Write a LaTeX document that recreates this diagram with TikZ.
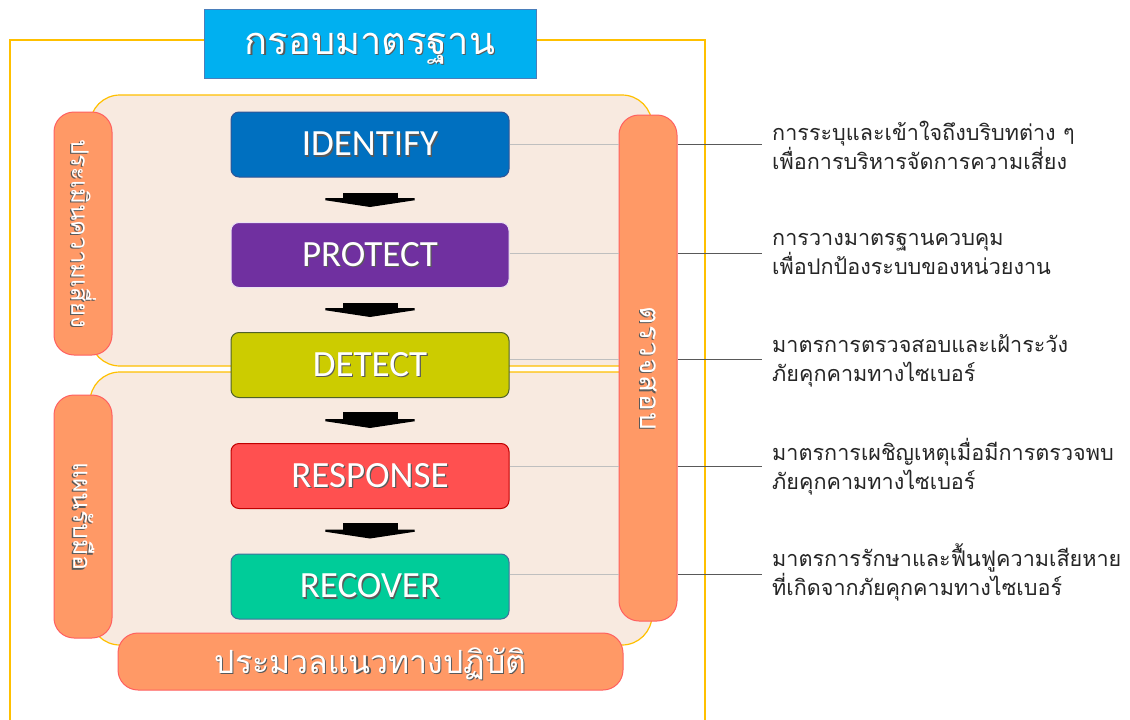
\documentclass[tikz,border=0pt]{standalone}
\usepackage{fontspec}
\setmainfont{Carlito}
\newfontfamily\thaifont[Script=Thai]{Loma}
\newfontfamily\thaiwide[Script=Thai, LetterSpace=4]{Loma}
\usetikzlibrary{arrows.meta}
\definecolor{cream}{HTML}{F8EAE0}
\definecolor{goldline}{HTML}{FFC000}
\definecolor{pillfill}{HTML}{FF9966}
\definecolor{pilledge}{HTML}{FF6060}
\definecolor{titlefill}{HTML}{00B0F0}
\definecolor{titleedge}{HTML}{4A7EBB}
\definecolor{idfill}{HTML}{0070C0}
\definecolor{idedge}{HTML}{2F5597}
\definecolor{prfill}{HTML}{7030A0}
\definecolor{predge}{HTML}{EDE3F3}
\definecolor{defill}{HTML}{CCCC00}
\definecolor{deedge}{HTML}{4F6228}
\definecolor{rsfill}{HTML}{FF5050}
\definecolor{rsedge}{HTML}{C00000}
\definecolor{rcfill}{HTML}{00CC99}
\definecolor{rcedge}{HTML}{41719C}
\definecolor{linein}{HTML}{BFBFBF}
\definecolor{lineout}{HTML}{595959}
\definecolor{desctext}{HTML}{262626}
\definecolor{shadowc}{HTML}{5A5A5A}
\newcommand\shd[1]{\makebox[0pt][l]{\hspace{1.2pt}\raisebox{-1.4pt}{\textcolor{shadowc}{#1}}}#1}
\begin{document}
\begin{tikzpicture}[x=1pt,y=-1pt,
  frame/.style={draw=goldline, line width=1.2pt},
  titlebox/.style={draw=titleedge, fill=titlefill, line width=1pt, minimum width=332pt, minimum height=69pt, inner sep=0pt},
  titletext/.style={text=white, inner sep=0pt, font=\thaifont\fontsize{38}{44}\selectfont},
  creambox/.style={draw=goldline, fill=cream, line width=1.2pt, rounded corners=30pt, inner sep=0pt},
  pillbox/.style={draw=pilledge, fill=pillfill, line width=1pt, rounded corners=20pt, inner sep=0pt},
  vtext/.style={rotate=-90, text=white, inner sep=0pt, font=\thaifont\fontsize{24}{28}\selectfont},
  htext/.style={text=white, inner sep=0pt, font=\thaifont\fontsize{32}{38}\selectfont},
  stepbox/.style={rounded corners=8pt, minimum width=278pt, minimum height=65pt, line width=1pt, text=white, inner sep=0pt, font=\fontsize{37}{40}\selectfont},
  blockarrow/.style={line width=55pt, black, -{Triangle[width=119pt, length=9pt]}},
  inline/.style={draw=linein, line width=0.8pt},
  outline/.style={draw=lineout, line width=0.8pt},
  desc/.style={anchor=west, align=left, text=desctext, inner xsep=10pt, inner ysep=2pt, font=\thaifont\fontsize{21.6}{29}\selectfont}
]
\useasboundingbox (0,0) rectangle (1130,720);
\fill[white] (0,0) rectangle (1130,720);
% outer frame
\draw[frame] (10,720) -- (10,40) -- (705,40) -- (705,720);
\node[titlebox] (title) at (370,43.5) {};
\node[titletext] (titlelabel) at ([yshift=-6pt]title.center) {\shd{กรอบมาตรฐาน}};
% cream areas
\node[creambox, minimum width=562pt, minimum height=271pt] (upper) at (371,230.5) {};
\node[creambox, minimum width=562pt, minimum height=273pt] (lower) at (371,508.5) {};
% step boxes
\node[stepbox, fill=idfill, draw=idedge] (identify) at (370,144.5) {\shd{IDENTIFY}};
\node[stepbox, fill=prfill, draw=predge] (protect) at (370,255) {\shd{PROTECT}};
\node[stepbox, fill=defill, draw=deedge] (detect) at (370,365) {\shd{DETECT}};
\node[stepbox, fill=rsfill, draw=rsedge] (response) at (370,476) {\shd{RESPONSE}};
\node[stepbox, fill=rcfill, draw=rcedge] (recover) at (370,586.5) {\shd{RECOVER}};
% block arrows
\draw[blockarrow] ([yshift=-15pt]identify.south) -- ([yshift=15pt]protect.north);
\draw[blockarrow] ([yshift=-15pt]protect.south) -- ([yshift=15pt]detect.north);
\draw[blockarrow] ([yshift=-14pt]detect.south) -- ([yshift=15pt]response.north);
\draw[blockarrow] ([yshift=-14pt]response.south) -- ([yshift=15pt]recover.north);
% side pills
\node[pillbox, minimum width=58pt, minimum height=243pt] (risk) at (83,233.5) {};
\node[vtext] (risktext) at (risk) {\shd{ประเมินความเสี่ยง}};
\node[pillbox, minimum width=58pt, minimum height=243pt] (plan) at (83,516.5) {};
\node[vtext, font=\thaifont\fontsize{25}{28}\selectfont] (plantext) at (plan) {\shd{แผนรับมือ}};
\node[pillbox, minimum width=58pt, minimum height=506pt] (check) at (648,368) {};
\node[vtext, font=\thaiwide\fontsize{28}{32}\selectfont] (checktext) at (check) {\shd{ตรวจสอบ}};
\node[pillbox, minimum width=505pt, minimum height=57pt] (guide) at (370.5,661.5) {};
\node[htext] (guidetext) at ([yshift=-3pt]guide.center) {\shd{ประมวลแนวทางปฏิบัติ}};
% descriptions
\node[desc] (d1) at (762,145.5) {การระบุและเข้าใจถึงบริบทต่าง ๆ\\เพื่อการบริหารจัดการความเสี่ยง};
\node[desc] (d2) at (762,254) {การวางมาตรฐานควบคุม\\เพื่อปกป้องระบบของหน่วยงาน};
\node[desc] (d3) at (762,360.5) {มาตรการตรวจสอบและเฝ้าระวัง\\ภัยคุกคามทางไซเบอร์};
\node[desc] (d4) at (762,466.5) {มาตรการเผชิญเหตุเมื่อมีการตรวจพบ\\ภัยคุกคามทางไซเบอร์};
\node[desc] (d5) at (762,572.5) {มาตรการรักษาและฟื้นฟูความเสียหาย\\ที่เกิดจากภัยคุกคามทางไซเบอร์};
% connector lines
\coordinate (c1) at (762,144);
\coordinate (c2) at (762,253);
\coordinate (c3) at (762,359);
\coordinate (c4) at (762,466);
\coordinate (c5) at (762,574);
\draw[inline] (identify.east |- c1) -- (check.west |- c1);
\draw[inline] (protect.east |- c2) -- (check.west |- c2);
\draw[inline] (detect.east |- c3) -- (check.west |- c3);
\draw[inline] (response.east |- c4) -- (check.west |- c4);
\draw[inline] (recover.east |- c5) -- (check.west |- c5);
\draw[outline] (check.east |- c1) -- (c1);
\draw[outline] (check.east |- c2) -- (c2);
\draw[outline] (check.east |- c3) -- (c3);
\draw[outline] (check.east |- c4) -- (c4);
\draw[outline] (check.east |- c5) -- (c5);
\end{tikzpicture}
\end{document}
